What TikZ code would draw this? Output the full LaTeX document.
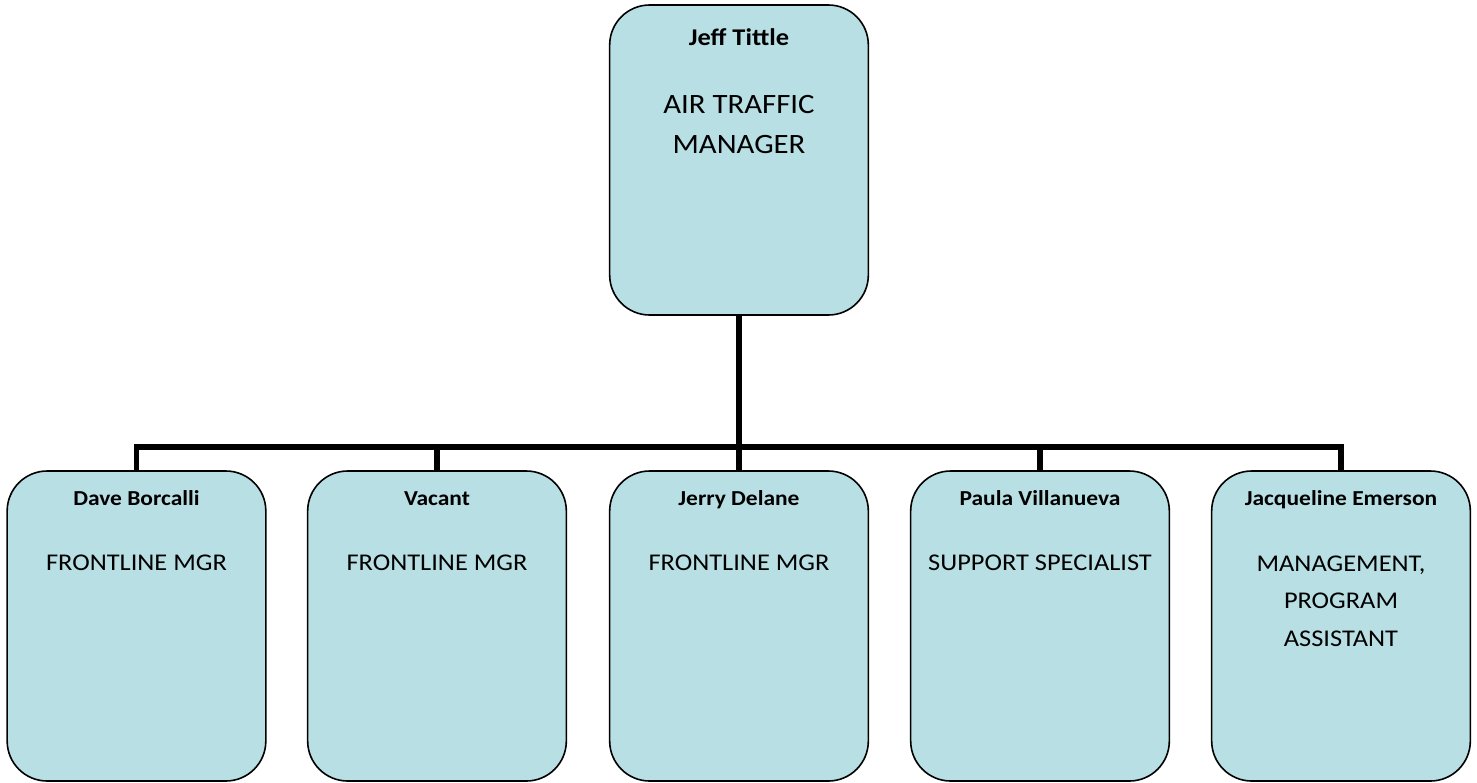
\documentclass[tikz,border=0pt]{standalone}
\usepackage{fontspec}
\setmainfont{Carlito}[FakeStretch=1.1]
\definecolor{boxfill}{HTML}{B8DFE4}
\begin{document}
\begin{tikzpicture}[x=0.75pt,y=-0.75pt,
		post/.style={draw=black,line width=1.2pt,fill=boxfill,rounded corners=30pt,minimum width=194pt,minimum height=232.5pt,inner sep=0pt},
		who/.style={anchor=base,font=\bfseries\fontsize{16}{20}\selectfont},
		title/.style={anchor=base,align=center,font=\fontsize{18}{28}\selectfont},
		bigtitle/.style={anchor=base,align=center,font=\fontsize{21}{29.6}\selectfont},
		link/.style={line width=4.1pt,miter limit=10}]
		\useasboundingbox (0,0) rectangle (1477,782);
		\node[post] (atm) at (739,160) {};
		\node[post] (dave) at (136.5,626) {};
		\node[post] (vac) at (437,626) {};
		\node[post] (jerry) at (739,626) {};
		\node[post] (paula) at (1040,626) {};
		\node[post] (jacq) at (1341,626) {};
		\node[who,font=\bfseries\fontsize{18}{22}\selectfont] (atmname) at (739,45) {Jeff Tittle};
		\node[bigtitle] (atmjob) at (739,153) {AIR TRAFFIC\\MANAGER};
		\node[who] (davename) at (136.5,505.5) {Dave Borcalli};
		\node[title] (davejob) at (136.5,570) {FRONTLINE MGR};
		\node[who] (vacname) at (437,505.5) {Vacant};
		\node[title] (vacjob) at (437,570) {FRONTLINE MGR};
		\node[who] (jerryname) at (739,505.5) {Jerry Delane};
		\node[title] (jerryjob) at (739,570) {FRONTLINE MGR};
		\node[who] (paulaname) at (1040,505.5) {Paula Villanueva};
		\node[title] (paulajob) at (1040,570) {SUPPORT SPECIALIST};
		\node[who] (jacqname) at (1341,505.5) {Jacqueline Emerson};
		\node[title] (jacqjob) at (1341,646) {MANAGEMENT,\\PROGRAM\\ASSISTANT};
		\coordinate (bus) at (739,447);
		\draw[link] (atm.south) -- (bus);
		\draw[link] (dave.north) |- (bus);
		\draw[link] (vac.north) |- (bus);
		\draw[link] (jerry.north) -- (bus);
		\draw[link] (paula.north) |- (bus);
		\draw[link] (jacq.north) |- (bus);
	\end{tikzpicture}
\end{document}
